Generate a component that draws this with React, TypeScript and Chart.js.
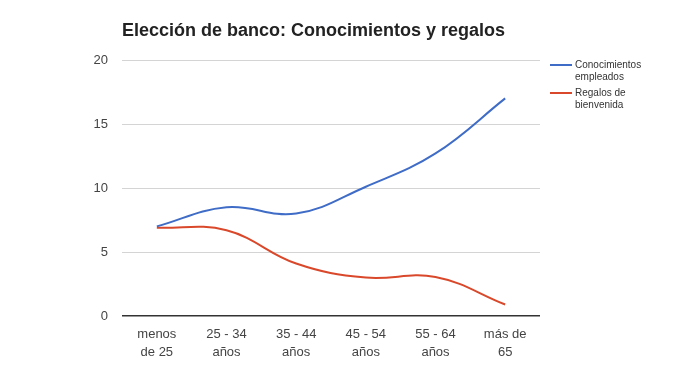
import React, { useEffect, useRef } from "react";
import Chart from "chart.js/auto";

const categories: string[][] = [
  ["menos", "de 25"],
  ["25 - 34", "años"],
  ["35 - 44", "años"],
  ["45 - 54", "años"],
  ["55 - 64", "años"],
  ["más de", "65"],
];
const conocimientos: number[] = [7, 8.5, 8, 10.1, 12.7, 17];
const regalos: number[] = [6.9, 6.7, 4.1, 3.0, 3.05, 0.9];
const seriesNames: string[][] = [
  ["Conocimientos", "empleados"],
  ["Regalos de", "bienvenida"],
];
const title = "Elección de banco: Conocimientos y regalos";
const yTicks: number[] = [0, 5, 10, 15, 20];

const BLUE = "#3f6cc6";
const RED = "#d9482a";
const FONT = "'Liberation Sans', Arial, sans-serif";

export default function App() {
  const ref = useRef<HTMLCanvasElement | null>(null);
  useEffect(() => {
    if (!ref.current) return;
    const overlay = {
      id: "overlay",
      afterDraw(chart: any) {
        const ctx = chart.ctx;
        ctx.save();
        ctx.fillStyle = "#222";
        ctx.font = `bold 18px ${FONT}`;
        ctx.textBaseline = "alphabetic";
        ctx.textAlign = "left";
        ctx.fillText(title, 122, 36);
        const colors = [BLUE, RED];
        const ys = [65, 93];
        ctx.font = `10px ${FONT}`;
        ctx.textBaseline = "middle";
        seriesNames.forEach((lines, i) => {
          ctx.strokeStyle = colors[i];
          ctx.lineWidth = 2;
          ctx.beginPath();
          ctx.moveTo(550, ys[i]);
          ctx.lineTo(572, ys[i]);
          ctx.stroke();
          ctx.fillStyle = "#333";
          lines.forEach((t, j) => ctx.fillText(t, 575, ys[i] + j * 12.5));
        });
        ctx.restore();
      },
    };
    const chart = new Chart(ref.current, {
      type: "line",
      data: {
        labels: categories as any,
        datasets: [
          {
            label: seriesNames[0].join(" "),
            data: conocimientos,
            borderColor: BLUE,
            backgroundColor: BLUE,
            borderWidth: 2,
            pointRadius: 0,
            tension: 0.4,
          },
          {
            label: seriesNames[1].join(" "),
            data: regalos,
            borderColor: RED,
            backgroundColor: RED,
            borderWidth: 2,
            pointRadius: 0,
            tension: 0.4,
          },
        ],
      },
      options: {
        animation: false,
        responsive: false,
        maintainAspectRatio: false,
        layout: { padding: { left: 0, right: 136, top: 60, bottom: 0 } },
        plugins: {
          legend: { display: false },
          title: { display: false },
          tooltip: { enabled: false },
        },
        scales: {
          x: {
            offset: true,
            grid: { display: false, drawTicks: false, offset: true },
            border: { display: false },
            ticks: {
              color: "#444",
              font: { family: FONT, size: 13, lineHeight: 1.4 },
              padding: 9,
              maxRotation: 0,
              autoSkip: false,
            },
            afterFit: (s: any) => {
              s.height = 66;
            },
          },
          y: {
            min: 0,
            max: 20,
            afterBuildTicks: (s: any) => {
              s.ticks = yTicks.map((v) => ({ value: v }));
            },
            grid: {
              drawTicks: false,
              color: (c: any) => (c.tick && c.tick.value === 0 ? "#333" : "#d4d4d4"),
              lineWidth: (c: any) => (c.tick && c.tick.value === 0 ? 1.5 : 1),
            },
            border: { display: false },
            ticks: {
              color: "#444",
              font: { family: FONT, size: 13 },
              padding: 14,
            },
            afterFit: (s: any) => {
              s.width = 122;
            },
          },
        },
      },
      plugins: [overlay],
    });
    return () => chart.destroy();
  }, []);
  return (
    <div style={{ position: "absolute", left: 0, top: 0, width: 676, height: 382, background: "#fff" }}>
      <canvas ref={ref} width={676} height={382} style={{ display: "block" }} />
    </div>
  );
}
